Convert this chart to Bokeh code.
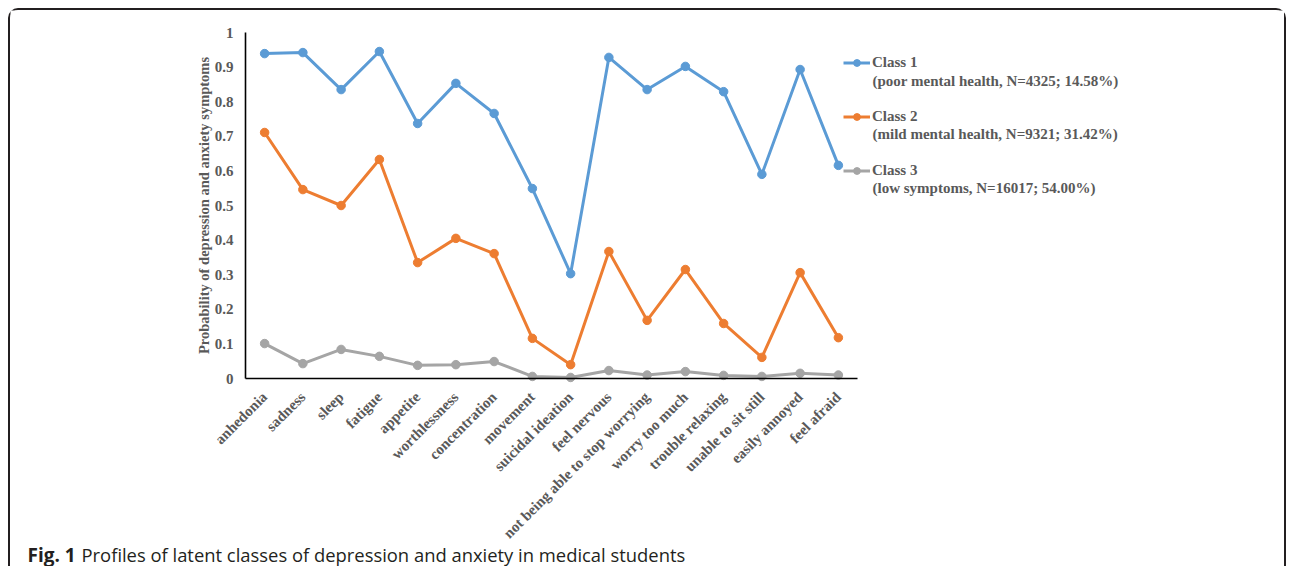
from math import pi
from bokeh.plotting import figure
from bokeh.models import Label, Legend, LegendItem, FixedTicker, ColumnDataSource, Range1d
from bokeh.embed import file_html
from bokeh.resources import INLINE

symptoms = ["anhedonia", "sadness", "sleep", "fatigue", "appetite", "worthlessness",
            "concentration", "movement", "suicidal ideation", "feel nervous",
            "not being able to stop worrying", "worry too much", "trouble relaxing",
            "unable to sit still", "easily annoyed", "feel afraid"]
class1 = [0.939, 0.942, 0.835, 0.945, 0.737, 0.853, 0.766, 0.549, 0.303, 0.928,
          0.835, 0.902, 0.829, 0.590, 0.893, 0.616]
class2 = [0.711, 0.546, 0.500, 0.633, 0.335, 0.405, 0.361, 0.116, 0.040, 0.367,
          0.168, 0.315, 0.159, 0.061, 0.306, 0.118]
class3 = [0.101, 0.043, 0.084, 0.064, 0.038, 0.040, 0.049, 0.006, 0.003, 0.023,
          0.010, 0.020, 0.009, 0.006, 0.015, 0.010]
series_names = ["Class 1", "Class 2", "Class 3"]
series_notes = ["(poor mental health, N=4325; 14.58%)",
                "(mild mental health, N=9321; 31.42%)",
                "(low symptoms, N=16017; 54.00%)"]
series_colors = ["#5B9BD5", "#ED7D31", "#A5A5A5"]
y_ticks = [0, 0.1, 0.2, 0.3, 0.4, 0.5, 0.6, 0.7, 0.8, 0.9, 1]
y_tick_labels = ["0", "0.1", "0.2", "0.3", "0.4", "0.5", "0.6", "0.7", "0.8", "0.9", "1"]
y_title = "Probability of depression and anxiety symptoms"
caption_bold = "Fig. 1"
caption_text = "Profiles of latent classes of depression and anxiety in medical students"

SERIF = "Liberation Serif"
GRAY = "#595959"
W, H = 1278, 558
n = len(symptoms)
xpos = list(range(n))
px_per_cat = 38.25
px_per_unit = 346.0
left_px, top_px, zero_px = 235, 22, 368

x_start = -0.5 - left_px / px_per_cat
x_end = -0.5 + (W - left_px) / px_per_cat
y_start = -(H - zero_px) / px_per_unit
y_end = 1 + top_px / px_per_unit

p = figure(width=W, height=H, x_range=Range1d(x_start, x_end),
           y_range=Range1d(y_start, y_end),
           output_backend="svg", toolbar_location=None,
           min_border=0)
p.styles = {"margin": "8px 0 0 8px",
            "border-top": "2px solid #231f20", "border-left": "2px solid #231f20",
            "border-right": "2px solid #231f20", "border-radius": "10px 10px 0 0"}
p.outline_line_color = None
p.xgrid.grid_line_color = None
p.ygrid.grid_line_color = None

source = ColumnDataSource(dict(x=xpos, c1=class1, c2=class2, c3=class3))
items = []
for name, col, color in zip(series_names, ["c1", "c2", "c3"], series_colors):
    r1 = p.line("x", col, source=source, line_color=color, line_width=3)
    r2 = p.scatter("x", col, source=source, size=8.5, fill_color=color, line_color=color)
    items.append(LegendItem(label=name, renderers=[r1, r2]))

legend = Legend(items=items, location=(833, 389), padding=0, margin=0,
                border_line_color=None, background_fill_alpha=0,
                glyph_width=27, glyph_height=17, label_height=17, label_standoff=2,
                spacing=37, label_text_font=SERIF, label_text_font_style="bold",
                label_text_font_size="15px", label_text_color=GRAY)
p.add_layout(legend)

for note, yy in zip(series_notes, [488, 435, 381]):
    p.add_layout(Label(x=862, y=yy, x_units="screen", y_units="screen", text=note,
                       text_font=SERIF, text_font_style="bold", text_font_size="15px",
                       text_color=GRAY, text_baseline="middle"))

p.xaxis.ticker = FixedTicker(ticks=xpos)
p.xaxis.major_label_overrides = {i: s for i, s in zip(xpos, symptoms)}
p.xaxis.fixed_location = 0
p.xaxis.bounds = (-0.5, n - 0.5)
p.yaxis.ticker = FixedTicker(ticks=y_ticks)
p.yaxis.major_label_overrides = {t: l for t, l in zip(y_ticks, y_tick_labels)}
p.yaxis.fixed_location = -0.5
p.yaxis.bounds = (0, 1)
p.yaxis.axis_label = y_title
for ax in (p.xaxis, p.yaxis):
    ax.axis_line_color = "black"
    ax.axis_line_width = 1.6
    ax.major_tick_line_color = None
    ax.minor_tick_line_color = None
    ax.major_label_text_font = SERIF
    ax.major_label_text_font_style = "bold"
    ax.major_label_text_font_size = "15px"
    ax.major_label_text_color = GRAY
p.yaxis.major_label_standoff = 6
p.yaxis.axis_label_text_font = SERIF
p.yaxis.axis_label_text_font_style = "bold"
p.yaxis.axis_label_text_font_size = "14.5px"
p.yaxis.axis_label_text_color = GRAY
p.yaxis.axis_label_standoff = 0
p.xaxis.major_label_orientation = pi / 4
p.xaxis.major_label_standoff = 10

p.add_layout(Label(x=17, y=14, x_units="screen", y_units="screen", text=caption_bold,
                   text_font="Open Sans", text_font_style="bold",
                   text_font_size="19px", text_color="#231f20", text_baseline="middle"))
p.add_layout(Label(x=71, y=14, x_units="screen", y_units="screen", text=caption_text,
                   text_font="Open Sans", text_font_size="18.4px",
                   text_color="#231f20", text_baseline="middle"))

open("out.html", "w").write(file_html(p, INLINE))
